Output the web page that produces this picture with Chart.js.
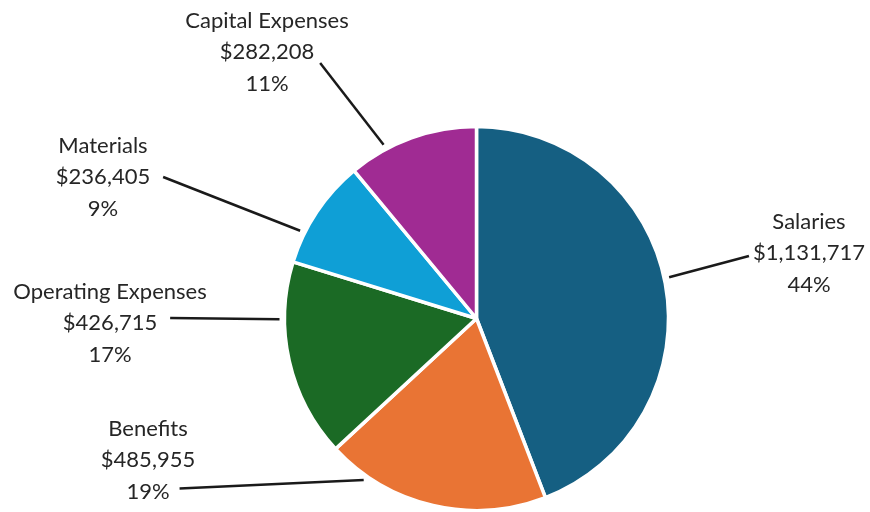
<!DOCTYPE html>
<html>
<head>
<meta charset="utf-8">
<script src="https://cdn.jsdelivr.net/npm/chart.js@4/dist/chart.umd.min.js"></script>
<style>
html,body{margin:0;padding:0;background:#fff;}
#wrap{width:870px;height:512px;position:relative;}
</style>
</head>
<body>
<div id="wrap"><canvas id="c" width="870" height="512"></canvas></div>
<script>
const categories = ["Salaries", "Benefits", "Operating Expenses", "Materials", "Capital Expenses"];
const amounts = [1131717, 485955, 426715, 236405, 282208];
const colors = ["#155f82", "#e97434", "#1b6a25", "#0f9fd6", "#a02b93"];

// label layout: text block centre x, middle-line y, leader attaches to a text line on a side
const labelLayout = [
  {cx: 809, cy: 253, side: -1, line: 1, gap: 4,  dy: 3,  frac: 0.49},
  {cx: 148, cy: 460, side: 1,  line: 2, gap: 10, dy: -3, frac: 0.82},
  {cx: 110, cy: 323, side: 1,  line: 1, gap: 13, dy: -5, frac: 0.71},
  {cx: 103, cy: 177, side: 1,  line: 1, gap: 13, dy: 0,  frac: 0.28},
  {cx: 267, cy: 52,  side: 1,  line: 1, gap: 6,  dy: 11, frac: 0.29}
];

const total = amounts.reduce((a, b) => a + b, 0);
const fmt = v => "$" + v.toLocaleString("en-US");
const LH = 31.5;

const labelPlugin = {
  id: "outLabels",
  afterDatasetsDraw(chart) {
    const ctx = chart.ctx;
    const meta = chart.getDatasetMeta(0);
    ctx.save();
    ctx.font = "22px 'Lato', sans-serif";
    meta.data.forEach((arc, i) => {
      const L = labelLayout[i];
      const lines = [categories[i], fmt(amounts[i]), Math.round(amounts[i] / total * 100) + "%"];
      const w = ctx.measureText(lines[L.line]).width;
      const lx = L.cx + L.side * (w / 2 + L.gap);
      const ly = L.cy + (L.line - 1) * LH + L.dy;
      const a = arc.startAngle + (arc.endAngle - arc.startAngle) * L.frac;
      const r = arc.outerRadius + 5;
      const px = arc.x + Math.cos(a) * r;
      const py = arc.y + Math.sin(a) * r;
      ctx.strokeStyle = "#1a1a1a";
      ctx.lineWidth = 2.5;
      ctx.beginPath();
      ctx.moveTo(lx, ly);
      ctx.lineTo(px, py);
      ctx.stroke();
      ctx.fillStyle = "#262626";
      ctx.textAlign = "center";
      ctx.textBaseline = "middle";
      lines.forEach((t, k) => ctx.fillText(t, L.cx, L.cy + (k - 1) * LH));
    });
    ctx.restore();
  }
};

new Chart(document.getElementById("c"), {
  type: "pie",
  data: {
    labels: categories,
    datasets: [{
      data: amounts,
      backgroundColor: colors,
      borderColor: "#ffffff",
      borderWidth: 3.5
    }]
  },
  options: {
    responsive: false,
    animation: false,
    radius: 192,
    layout: {padding: {left: 83, right: 0, top: 125, bottom: 0}},
    plugins: {legend: {display: false}, tooltip: {enabled: false}}
  },
  plugins: [labelPlugin]
});
</script>
</body>
</html>
